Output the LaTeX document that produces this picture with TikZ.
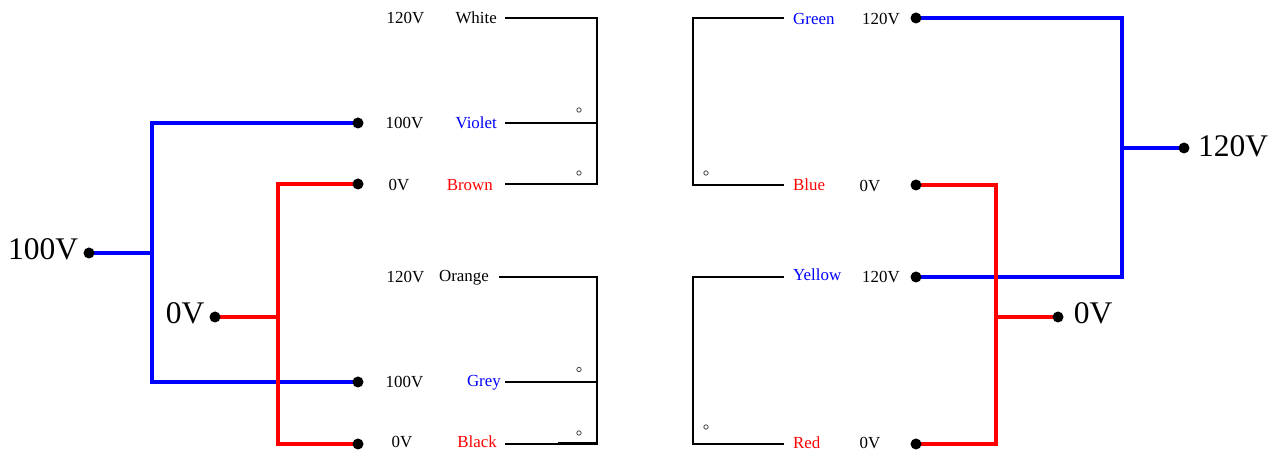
\documentclass[tikz,border=0pt]{standalone}
\usepackage{fontspec}
\setmainfont{Liberation Serif}
\definecolor{bl}{RGB}{0,0,255}
\definecolor{rd}{RGB}{255,0,0}
\tikzset{
  x=1bp,y=-1bp,
  term/.style={circle,fill=black,draw=none,inner sep=0pt,minimum size=11bp},
  small/.style={inner sep=0pt,font=\fontsize{16.9bp}{18bp}\selectfont,text=black},
  big/.style={inner sep=0pt,font=\fontsize{31.5bp}{34bp}\selectfont,text=black},
  bus/.style={line width=3.6bp,line join=miter},
  wire/.style={line width=2bp,black,line join=miter},
  dotmark/.style={circle,draw=black!70,fill=white,line width=0.8bp,inner sep=0pt,minimum size=4.4bp},
}
\begin{document}
\begin{tikzpicture}
\useasboundingbox (0,0) rectangle (1285,450);
% black transformer wires
\coordinate (w1) at (505,18); \coordinate (w2) at (505,123); \coordinate (w3) at (505,184);
\coordinate (w4) at (499,277); \coordinate (w5) at (505,382); \coordinate (w6) at (505,444);
\coordinate (w7) at (784,18); \coordinate (w8) at (784,185); \coordinate (w9) at (784,277); \coordinate (w10) at (784,444);
\draw[wire] (w1) -| (597,184) -- (w3);
\draw[wire] (w2) -- (597,123);
\draw[wire] (w4) -| (597,444) -- (w6);
\draw[wire] (w5) -- (597,382);
\draw[wire] (558,443.5) -- (597,443.5);
\draw[wire] (w7) -| (693,185) -- (w8);
\draw[wire] (w9) -| (693,444) -- (w10);
% coloured buses (drawn first, terminals on top)
\coordinate (jA) at (152,253); \coordinate (jB) at (278,317);
\coordinate (jC) at (1122,148); \coordinate (jD) at (996,317);
\coordinate (t1c) at (358,123); \coordinate (t2c) at (358,184);
\coordinate (t3c) at (358,382); \coordinate (t4c) at (358,444);
\coordinate (s1c) at (916,18); \coordinate (s2c) at (916,185);
\coordinate (s3c) at (916,277); \coordinate (s4c) at (916,444);
\draw[bus,bl] (89,253) -- (jA);
\draw[bus,bl] (t1c) -| (jA) |- (t3c);
\draw[bus,rd] (215,317) -- (jB);
\draw[bus,rd] (t2c) -| (jB) |- (t4c);
\draw[bus,bl] (s1c) -| (jC) |- (s3c);
\draw[bus,bl] (1184,148) -- (jC);
\draw[bus,rd] (s2c) -| (jD) |- (s4c);
\draw[bus,rd] (1058,317) -- (jD);
% terminals
\node[term] (inA) at (89,253) {};
\node[term] (inB) at (215,317) {};
\node[term] (t1) at (t1c) {};
\node[term] (t2) at (t2c) {};
\node[term] (t3) at (t3c) {};
\node[term] (t4) at (t4c) {};
\node[term] (s1) at (s1c) {};
\node[term] (s2) at (s2c) {};
\node[term] (s3) at (s3c) {};
\node[term] (s4) at (s4c) {};
\node[term] (outA) at (1184,148) {};
\node[term] (outB) at (1058,317) {};
% big labels
\node[big,anchor=base] (l100) at (43,260) {100V};
\node[big,anchor=base] (l0) at (185,324) {0V};
\node[big,anchor=base] (l120) at (1233,157) {120V};
\node[big,anchor=base] (l0b) at (1093,324) {0V};
% voltage labels
\node[small,anchor=base] (v1) at (405.5,24) {120V};
\node[small,anchor=base] (v2) at (404.5,129) {100V};
\node[small,anchor=base] (v3) at (399,191) {0V};
\node[small,anchor=base] (v4) at (405.5,282.5) {120V};
\node[small,anchor=base] (v5) at (404.5,387.5) {100V};
\node[small,anchor=base] (v6) at (402,447.5) {0V};
\node[small,anchor=base] (v7) at (881,25) {120V};
\node[small,anchor=base] (v8) at (870,192) {0V};
\node[small,anchor=base] (v9) at (881,283) {120V};
\node[small,anchor=base] (v10) at (870,448.5) {0V};
% wire names
\node[small,anchor=base east] (white) at (497,23.5) {White};
\node[small,anchor=base east,text=bl] (violet) at (497,129) {Violet};
\node[small,anchor=base east,text=rd] (brown) at (493,190.5) {Brown};
\node[small,anchor=base east] (orange) at (489,281.5) {Orange};
\node[small,anchor=base east,text=bl] (grey) at (501,386.5) {Grey};
\node[small,anchor=base east,text=rd] (black) at (497,448) {Black};
\node[small,anchor=base west,text=bl] (green) at (793,24.5) {Green};
\node[small,anchor=base west,text=rd] (blue) at (793,190.5) {Blue};
\node[small,anchor=base west,text=bl] (yellow) at (793,280.5) {Yellow};
\node[small,anchor=base west,text=rd] (red) at (793,448.5) {Red};
% small marks
\node[dotmark] (d1) at (579,110) {};
\node[dotmark] (d2) at (579,173) {};
\node[dotmark] (d3) at (579,369.5) {};
\node[dotmark] (d4) at (579,433) {};
\node[dotmark] (d5) at (706,173) {};
\node[dotmark] (d6) at (706,427) {};
\end{tikzpicture}
\end{document}
